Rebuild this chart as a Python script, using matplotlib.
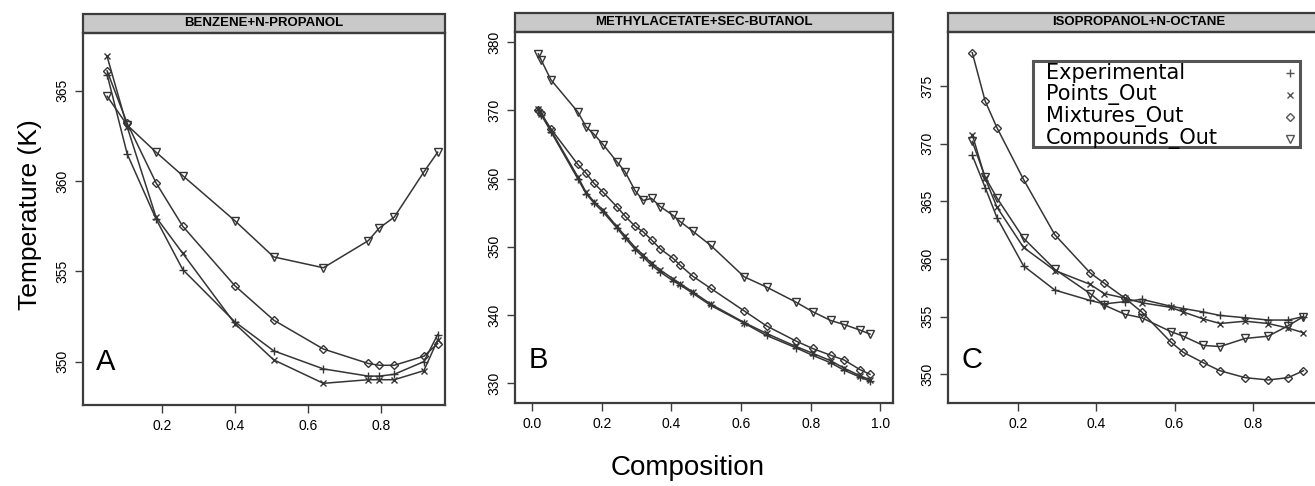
import matplotlib.pyplot as plt
from matplotlib.patches import Rectangle

# --- data ---
series_names = ["Experimental", "Points_Out", "Mixtures_Out", "Compounds_Out"]
panel_titles = ["BENZENE+N-PROPANOL", "METHYLACETATE+SEC-BUTANOL", "ISOPROPANOL+N-OCTANE"]
panel_letters = ["A", "B", "C"]

a_x = [0.05, 0.105, 0.184, 0.257, 0.40, 0.506, 0.642, 0.765, 0.795, 0.836, 0.917, 0.955]
a_exp = [365.9, 361.5, 357.9, 355.1, 352.2, 350.6, 349.6, 349.2, 349.2, 349.3, 350.0, 351.5]
a_pts = [366.9, 363.0, 358.0, 356.0, 352.1, 350.1, 348.8, 349.0, 349.0, 349.0, 349.5, 351.2]
a_mix = [366.1, 363.2, 359.9, 357.5, 354.2, 352.3, 350.7, 349.9, 349.8, 349.8, 350.3, 351.0]
a_cmp = [364.7, 363.1, 361.6, 360.3, 357.8, 355.8, 355.2, 356.7, 357.4, 358.0, 360.5, 361.6]

b_x = [0.018, 0.026, 0.054, 0.131, 0.155, 0.178, 0.204, 0.243, 0.267, 0.296, 0.319, 0.343,
       0.368, 0.405, 0.425, 0.461, 0.513, 0.609, 0.673, 0.757, 0.805, 0.857, 0.896, 0.941, 0.970]
b_exp = [370.0, 369.4, 366.9, 360.0, 357.8, 356.4, 355.1, 352.8, 351.3, 349.6, 348.5, 347.3,
         346.3, 345.0, 344.4, 343.2, 341.4, 338.8, 337.0, 335.2, 334.1, 333.0, 331.9, 330.9, 330.3]
b_pts = [370.2, 369.5, 367.1, 360.3, 358.0, 356.6, 355.4, 353.0, 351.6, 349.9, 348.8, 347.6,
         346.6, 345.3, 344.6, 343.4, 341.6, 338.9, 337.3, 335.4, 334.4, 333.3, 332.2, 331.1, 330.5]
b_mix = [370.1, 369.6, 367.3, 362.1, 360.8, 359.3, 358.0, 355.9, 354.5, 353.0, 352.2, 351.0,
         349.7, 348.3, 347.3, 345.7, 343.9, 340.6, 338.4, 336.2, 335.1, 334.1, 333.4, 332.0, 331.3]
b_cmp = [378.3, 377.4, 374.5, 369.8, 367.6, 366.5, 365.0, 362.5, 361.0, 358.2, 356.8, 357.1,
         355.9, 354.6, 353.7, 352.3, 350.2, 345.6, 344.1, 341.9, 340.5, 339.2, 338.6, 337.8, 337.2]

c_x = [0.083, 0.116, 0.146, 0.214, 0.294, 0.384, 0.420, 0.473, 0.516, 0.590, 0.622, 0.673,
       0.716, 0.780, 0.839, 0.890, 0.929]
c_exp = [369.0, 366.2, 363.6, 359.4, 357.3, 356.4, 356.1, 356.3, 356.5, 355.9, 355.7, 355.4,
         355.1, 354.9, 354.7, 354.7, 355.0]
c_pts = [370.8, 367.0, 364.5, 361.0, 359.0, 357.8, 357.0, 356.6, 356.2, 355.8, 355.4, 354.8,
         354.4, 354.6, 354.4, 354.0, 353.6]
c_mix = [377.9, 373.7, 371.4, 366.9, 362.1, 358.8, 357.9, 356.6, 355.4, 352.8, 351.9, 351.0,
         350.3, 349.7, 349.5, 349.7, 350.3]
c_cmp = [370.2, 367.1, 365.3, 361.8, 359.1, 357.0, 356.0, 355.2, 354.9, 353.7, 353.3, 352.5,
         352.4, 353.1, 353.3, 354.2, 355.0]

panels = [
    (a_x, [a_exp, a_pts, a_mix, a_cmp]),
    (b_x, [b_exp, b_pts, b_mix, b_cmp]),
    (c_x, [c_exp, c_pts, c_mix, c_cmp]),
]
x_ticks = [[0.2, 0.4, 0.6, 0.8], [0.0, 0.2, 0.4, 0.6, 0.8, 1.0], [0.2, 0.4, 0.6, 0.8]]
y_ticks = [[350, 355, 360, 365], [330, 340, 350, 360, 370, 380], [350, 355, 360, 365, 370, 375]]

# --- layout (pixels) ---
W, H = 1315, 486
boxes = [(83, 445, 33, 405), (515, 893, 32, 403), (948, 1330, 32, 403)]
xlims = [(-0.016, 0.975), (-0.049, 1.036), (0.021, 0.997)]
ylims = [(347.6, 368.2), (327.1, 381.5), (347.5, 379.7)]

markers = ["+", "x", "D", "v"]
msizes = [6, 5, 4.5, 5.5]
line_col = "#353535"
frame_col = "#3c3c3c"

fig = plt.figure(figsize=(W / 100, H / 100), dpi=100)

for i, (x, ys) in enumerate(panels):
    l, r, t, b = boxes[i]
    ax = fig.add_axes([l / W, 1 - b / H, (r - l) / W, (b - t) / H])
    for y, m, ms in zip(ys, markers, msizes):
        ax.plot(x, y, color=line_col, lw=1.1, marker=m, ms=ms, mfc="none",
                mec=line_col, mew=1.0)
    ax.set_xlim(*xlims[i])
    ax.set_ylim(*ylims[i])
    ax.set_xticks(x_ticks[i])
    ax.set_xticklabels([f"{v:.1f}" for v in x_ticks[i]], fontsize=10, family="Liberation Sans")
    ax.set_yticks(y_ticks[i])
    ax.set_yticklabels([str(v) for v in y_ticks[i]], fontsize=10, rotation=90,
                       va="center", family="Liberation Sans")
    ax.tick_params(direction="out", length=6, width=1, color=frame_col, pad=4)
    for s in ax.spines.values():
        s.set_color(frame_col)
        s.set_linewidth(1.6)

    # strip with the panel title
    sh = 19 / (b - t)
    ax.add_patch(Rectangle((0, 1), 1, sh, transform=ax.transAxes, clip_on=False,
                           facecolor="#c9c9c9", edgecolor=frame_col, lw=1.6))
    ax.text(0.5, 1 + sh / 2, panel_titles[i], transform=ax.transAxes, ha="center",
            va="center", fontsize=9.5, family="Liberation Sans", fontweight="bold")

    ax.text(0.035, 0.115, panel_letters[i], transform=ax.transAxes, ha="left",
            va="center", fontsize=21, family="Liberation Sans")

    if i == 2:
        # key box, labels left-aligned with symbols on the right
        pw, ph = r - l, b - t
        ax.add_patch(Rectangle(((1033 - l) / pw, (b - 147) / ph), 267 / pw, 86 / ph,
                               transform=ax.transAxes, facecolor="white",
                               edgecolor="#555555", lw=2.2, zorder=5))
        for k, (name, m, ms) in enumerate(zip(series_names, markers, msizes)):
            yy = (b - (73 + 22 * k)) / ph
            ax.text((1046 - l) / pw, yy, name, transform=ax.transAxes, ha="left",
                    va="center", fontsize=15, family="DejaVu Sans", zorder=6)
            ax.plot([(1290 - l) / pw], [yy], transform=ax.transAxes, ls="none",
                    marker=m, ms=ms, mfc="none", mec="#555555", mew=1.0, zorder=6,
                    clip_on=False)

fig.text(30 / W, 1 - 215 / H, "Temperature (K)", rotation=90, ha="center", va="center",
         fontsize=19, family="Liberation Sans")
fig.text(688 / W, 1 - 468 / H, "Composition", ha="center", va="center",
         fontsize=20, family="Liberation Sans")

fig.savefig("out.png", dpi=100)
